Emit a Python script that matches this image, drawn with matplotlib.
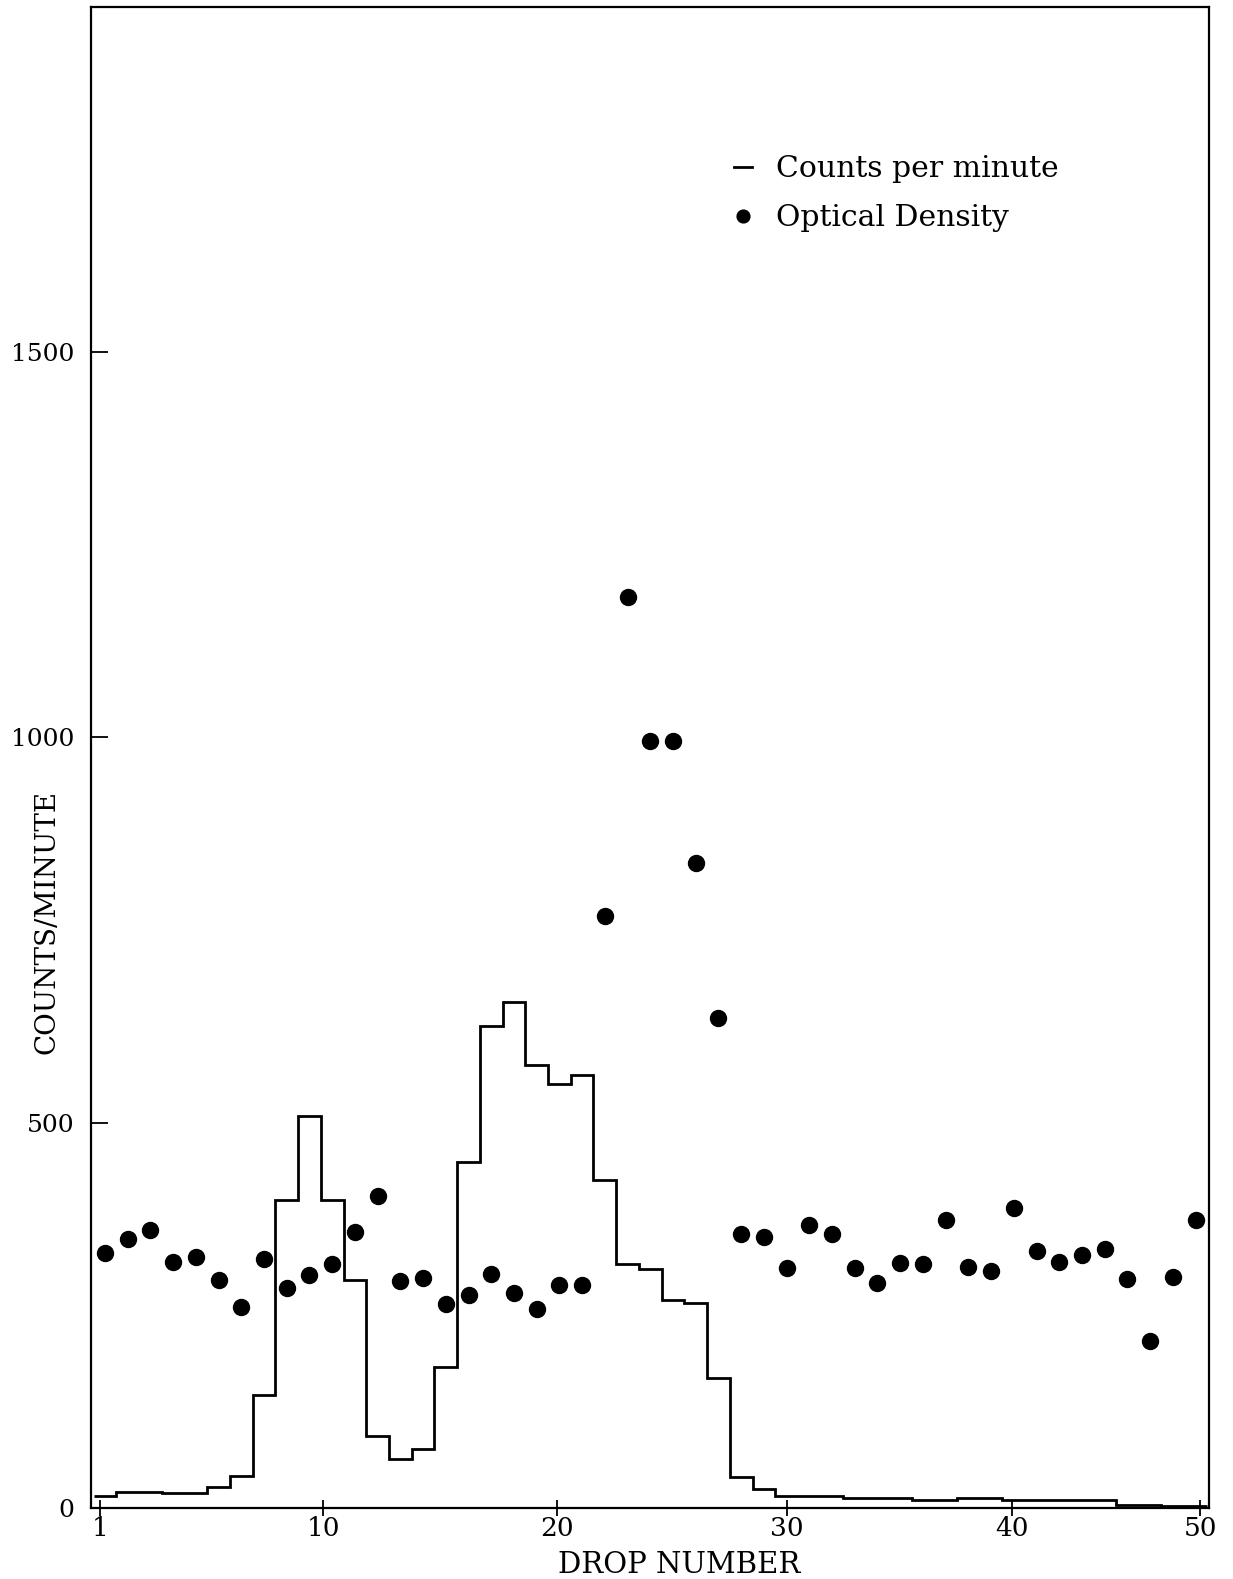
import numpy as np
import matplotlib
matplotlib.use('Agg')
import matplotlib.pyplot as plt

# drop numbers (one dot / one histogram bin per drop)
drops = np.arange(1, 50)

# counts per minute, one value per drop
counts = [15, 21, 21, 20, 19, 27, 42, 146, 399, 509,
          399, 296, 93, 63, 76, 183, 449, 625, 656, 575,
          550, 562, 426, 317, 310, 270, 266, 168, 40, 25,
          15, 15, 16, 13, 13, 13, 10, 10, 13, 13,
          10, 10, 10, 10, 10, 4, 4, 2, 2]

# optical density, plotted on the same counts/minute scale
density = [331, 349, 361, 319, 325, 296, 261, 323, 285, 302,
           317, 358, 405, 294, 299, 265, 276, 303, 279, 258,
           289, 289, 768, 1182, 995, 995, 837, 636, 356, 351,
           311, 367, 356, 311, 292, 318, 317, 373, 313, 307,
           389, 334, 319, 328, 336, 297, 216, 300, 373]

# the hand drawn x scale is not quite even, ticks sit where they were inked
xtick_pos = [0.8, 10.6, 20.9, 31.0, 40.9, 49.2]
xtick_labels = ['1', '10', '20', '30', '40', '50']
ytick_pos = [0, 500, 1000, 1500]
ytick_labels = ['0', '500', '1000', '1500']

plt.rcParams['font.family'] = ['DejaVu Serif']

fig = plt.figure(figsize=(12.33, 15.79), dpi=100)
ax = fig.add_axes([0.0738, 0.0450, 0.9067, 0.9508])

edges = np.append(drops - 0.5, drops[-1] + 0.5)
ax.stairs(counts, edges, baseline=None, color='black', linewidth=2.0,
          label='Counts per minute')
ax.plot(drops, density, 'o', color='black', markersize=11.5,
        linestyle='none', label='Optical Density')

ax.set_xlim(0.384, 49.59)
ax.set_ylim(0, 1948)

ax.set_xticks(xtick_pos)
ax.set_xticklabels(xtick_labels, fontsize=19)
ax.set_yticks(ytick_pos)
ax.set_yticklabels(ytick_labels, fontsize=18)
ax.tick_params(axis='x', direction='inout', length=12, width=1.3, pad=0)
ax.tick_params(axis='y', direction='in', length=12, width=1.3, pad=12)

for sp in ax.spines.values():
    sp.set_linewidth(1.6)

ax.set_xlabel('DROP NUMBER', fontsize=21)
ax.xaxis.set_label_coords(0.526, -0.029)
ax.set_ylabel('COUNTS/MINUTE', fontsize=20)
ax.yaxis.set_label_coords(-0.027, 0.39)

ax.legend(loc='upper left', bbox_to_anchor=(0.562, 0.911), frameon=False,
          fontsize=21.5, handlelength=0.6, handletextpad=0.8, labelspacing=0.7,
          borderpad=0, markerscale=0.8)

fig.savefig('out.png', dpi=100)
